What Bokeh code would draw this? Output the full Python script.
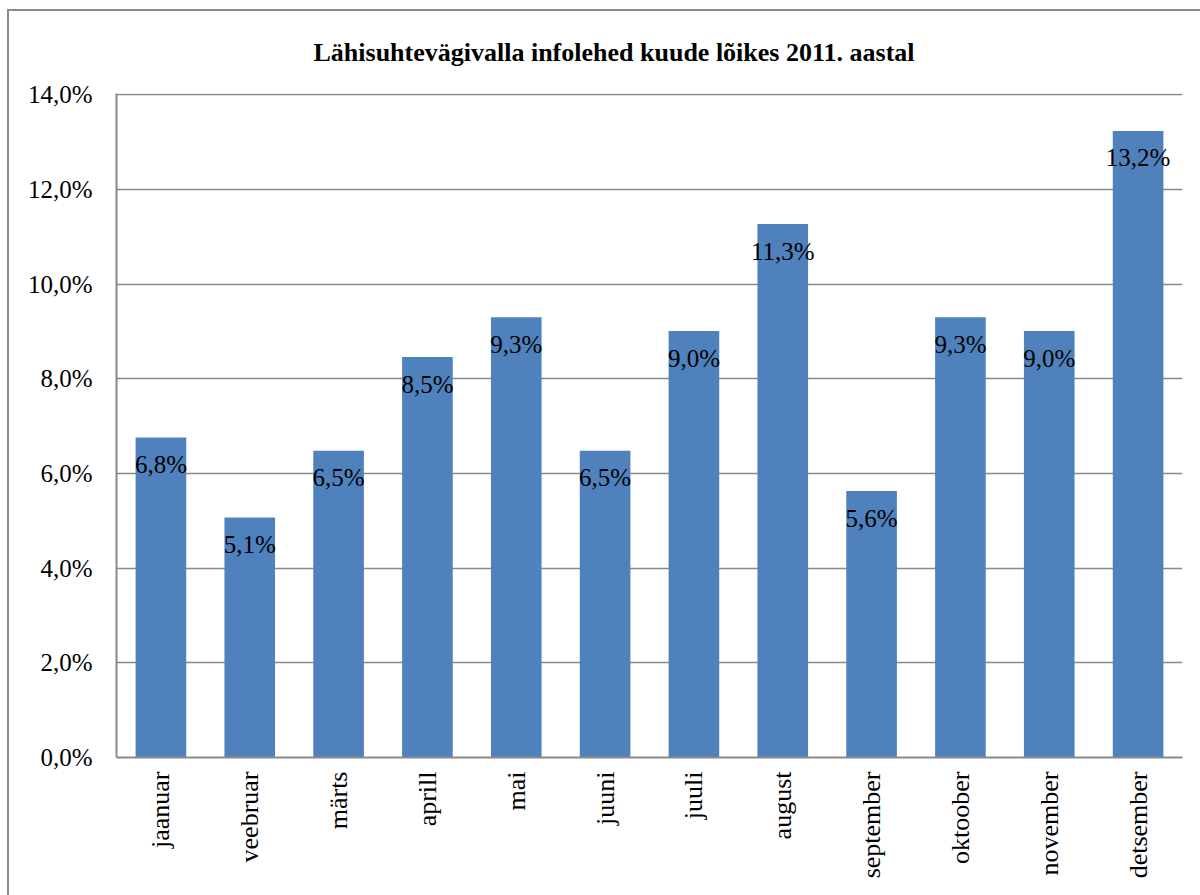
import math
from bokeh.plotting import figure
from bokeh.models import ColumnDataSource, FixedTicker, Range1d
from bokeh.core.properties import value
from bokeh.embed import file_html
from bokeh.resources import INLINE

title_text = "Lähisuhtevägivalla infolehed kuude lõikes 2011. aastal"
months = ["jaanuar", "veebruar", "märts", "aprill", "mai", "juuni",
          "juuli", "august", "september", "oktoober", "november", "detsember"]
shares = [6.76, 5.07, 6.48, 8.46, 9.30, 6.48, 9.01, 11.27, 5.63, 9.30, 9.01, 13.24]
y_ticks = [0, 2, 4, 6, 8, 10, 12, 14]
y_tick_labels = ["0,0%", "2,0%", "4,0%", "6,0%", "8,0%", "10,0%", "12,0%", "14,0%"]

labels = [("%.1f" % v).replace(".", ",") + "%" for v in shares]
src = ColumnDataSource(dict(month=months, share=shares, label=labels))

FONT = "Liberation Serif"
GRAY = "#898989"

p = figure(x_range=months, y_range=Range1d(0, 14.03), width=1193, height=886,
           output_backend="svg", toolbar_location=None,
           min_border_left=107, min_border_right=20, min_border_top=82,
           min_border_bottom=140)
p.styles = {"border-left": "2px solid #8c8c8c", "border-top": "2px solid #8c8c8c",
            "box-sizing": "border-box", "margin-left": "7px", "margin-top": "9px"}

p.title.text = title_text
p.title.text_font = FONT
p.title.text_font_size = "26px"
p.title.text_font_style = "bold"
p.title.text_color = "#000000"
p.title.align = "left"
p.title.offset = 197
p.title.standoff = 50
p.title.vertical_align = "top"

p.outline_line_color = None
p.background_fill_color = "white"
p.border_fill_color = "white"

p.vbar(x="month", top="share", width=0.57, source=src, color="#4F81BD", line_color=None)
p.text(x="month", y="share", text="label", source=src, text_align="center",
       text_baseline="alphabetic", y_offset=27, text_font=value(FONT),
       text_font_size="25px", text_color="#000000")

p.xgrid.grid_line_color = None
p.ygrid.grid_line_color = GRAY
p.ygrid.grid_line_width = 1.5
p.yaxis.ticker = FixedTicker(ticks=y_ticks)
p.yaxis.major_label_overrides = {t: l for t, l in zip(y_ticks, y_tick_labels)}

for ax in (p.xaxis[0], p.yaxis[0]):
    ax.axis_line_color = GRAY
    ax.axis_line_width = 2
    ax.major_tick_line_color = None
    ax.minor_tick_line_color = None
    ax.major_tick_out = 0
    ax.major_tick_in = 0
    ax.major_label_text_font = FONT
    ax.major_label_text_font_size = "25px"
    ax.major_label_text_color = "#000000"

p.yaxis.major_label_standoff = 24
p.xaxis.major_label_orientation = math.pi / 2
p.xaxis.major_label_text_font_size = "26px"
p.xaxis.major_label_standoff = 14
p.x_range.range_padding = 0.0

open("out.html", "w").write(file_html(p, INLINE))
